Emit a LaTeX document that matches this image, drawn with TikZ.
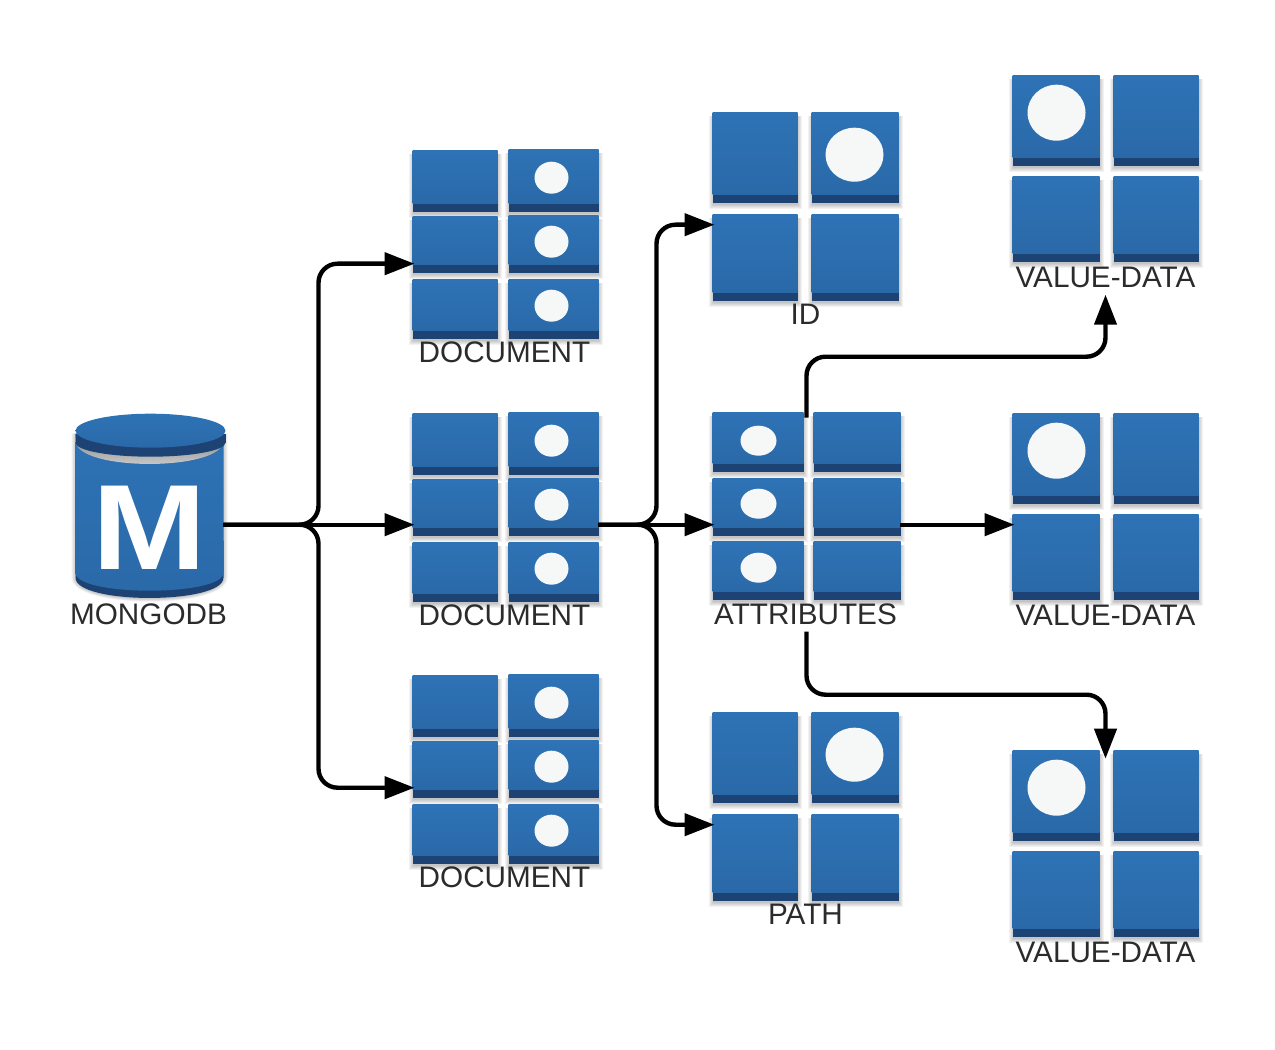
\documentclass[tikz,border=0pt]{standalone}
\usepackage{fontspec}
\setmainfont{Liberation Sans}
\usepackage{xcolor}
\usetikzlibrary{arrows.meta}

\definecolor{tiletop}{HTML}{2E73B6}
\definecolor{tilebottom}{HTML}{2A69A8}
\definecolor{tilebar}{HTML}{1C4373}
\definecolor{dotwhite}{HTML}{F6F7F7}
\definecolor{captiongray}{HTML}{2B2B2B}

\newcommand{\tile}[4]{
  \foreach \d in {1,...,5}
    \fill[softshade] ({#1-\d+1},{#2+3}) rectangle ({#3+\d-1},{#4+\d+1});
  \fill[tilebar] (#1,#2) rectangle (#3,#4);
  \shade[tileface] (#1,#2) rectangle (#3,#4-8);
}
\newcommand{\docgroup}[3]{
  \node[groupbox, minimum width=3.72cm, minimum height=4.2cm] (#1) at (505,#3) {};
  \begin{scope}[shift={(0,#2)}]
    \tile{412}{150}{497}{211}
    \tile{508}{149}{598}{211}
    \tile{412}{216}{497}{272}
    \tile{508}{215}{598}{272}
    \tile{412}{279}{497}{338}
    \tile{508}{279}{598}{338}
    \fill[dotfill] (551,177) ellipse [x radius=17, y radius=16];
    \fill[dotfill] (551,241) ellipse [x radius=17, y radius=16];
    \fill[dotfill] (551,305) ellipse [x radius=17, y radius=16];
    \node[caption] (#1label) at (504,352) {DOCUMENT};
  \end{scope}
}
\newcommand{\keygroup}[3]{
  \node[groupbox, minimum width=3.72cm, minimum height=3.6cm] (#1) at (805,224+#2) {};
  \begin{scope}[shift={(0,#2)}]
    \tile{712}{112}{797}{202}
    \tile{811}{112}{898}{202}
    \tile{712}{214}{797}{300}
    \tile{811}{214}{898}{300}
    \fill[dotfill] (854,154) ellipse [x radius=29, y radius=27];
    \node[caption] (#1label) at (805,314) {#3};
  \end{scope}
}
\newcommand{\valuegroup}[3]{
  \node[groupbox, minimum width=3.72cm, minimum height=4.44cm] (#1) at (1105,#3) {};
  \begin{scope}[shift={(0,#2)}]
    \tile{1012}{75}{1099}{165}
    \tile{1113}{75}{1198}{165}
    \tile{1012}{176}{1099}{261}
    \tile{1113}{176}{1198}{261}
    \fill[dotfill] (1056,112) ellipse [x radius=29, y radius=28];
    \node[caption] (#1label) at (1105,277) {VALUE-DATA};
  \end{scope}
}

\begin{document}
\begin{tikzpicture}[
    x=0.02cm, y=-0.02cm,
    softshade/.style={fill=black, opacity=0.05},
    tileface/.style={top color=tiletop, bottom color=tilebottom},
    tilebar/.style={fill=tilebar},
    dotfill/.style={fill=dotwhite},
    groupbox/.style={rectangle, inner sep=0pt, outer sep=0pt},
    caption/.style={inner sep=0pt, text=captiongray,
      font=\fontsize{16.9}{20}\selectfont},
    flow/.style={draw=black, line width=2.5pt, rounded corners=0.38cm,
      shorten >=-0.04cm, -{Triangle[length=0.6cm, width=0.44cm]}},
  ]

  \useasboundingbox (-0.5,-0.7) rectangle (1274.5,1049.3);

  % database
  \foreach \d in {1,...,5}
    \fill[softshade] ({76-\d},433) -- ({76-\d},577)
      .. controls ({76-\d},{604+\d}) and ({222+\d},{604+\d}) .. ({222+\d},577)
      -- ({222+\d},433) -- cycle;
  \fill[fill=tilebar] (75,540) -- (75,577)
    .. controls (75,604) and (223,604) .. (223,577) -- (223,540) -- cycle;
  \shade[tileface] (75,433) -- (75,572)
    .. controls (75,596) and (223,596) .. (223,572) -- (223,433) -- cycle;
  \shade[top color=black!50, bottom color=black!15] (75,433) -- (75,440)
    .. controls (75,471) and (223,471) .. (223,440) -- (223,433) -- cycle;
  \fill[fill=tilebar] (150,442) ellipse [x radius=75, y radius=14];
  \fill[fill=tilebar] (75,433) rectangle (225,442);
  \shade[tileface] (150,430) ellipse [x radius=75, y radius=17];
  \node[groupbox, minimum width=2.96cm, minimum height=2.4cm] (mongodb) at (149,524) {};
  \node[inner sep=0pt, text=white, font=\fontsize{69}{69}\selectfont\bfseries] (mletter) at (149,527) {\scalebox{1.13}[1]{M}};
  \node[caption] (mongodblabel) at (148,614) {MONGODB};

  % documents
  \docgroup{doc1}{0}{263}
  \docgroup{doc2}{263}{524}
  \docgroup{doc3}{525}{787}

  % attributes
  \node[groupbox, minimum width=3.76cm, minimum height=4.28cm] (attrs) at (806,524) {};
  \tile{712}{412}{803}{471}
  \tile{813}{412}{900}{471}
  \tile{712}{478}{803}{535}
  \tile{813}{478}{900}{535}
  \tile{712}{541}{803}{599}
  \tile{813}{541}{900}{599}
  \fill[dotfill] (758,440) ellipse [x radius=18, y radius=15];
  \fill[dotfill] (758,503) ellipse [x radius=18, y radius=15];
  \fill[dotfill] (758,567) ellipse [x radius=18, y radius=15];
  \node[caption] (attrslabel) at (805,614) {ATTRIBUTES};

  \keygroup{id}{0}{ID}
  \keygroup{path}{600}{PATH}

  \valuegroup{value1}{0}{185}
  \valuegroup{value2}{338}{524}
  \valuegroup{value3}{675}{867}

  % connectors
  \coordinate (forkdoc) at (318,524);
  \coordinate (forkattr) at (656,524);
  \coordinate (bendup) at (806,356);
  \coordinate (benddown) at (806,694);

  \draw[flow] (mongodb.east) -- (forkdoc) -- (forkdoc |- doc1.west) -- (doc1.west);
  \draw[flow] (mongodb.east) -- (doc2.west);
  \draw[flow] (mongodb.east) -- (forkdoc) -- (forkdoc |- doc3.west) -- (doc3.west);

  \draw[flow] (doc2.east) -- (forkattr) -- (forkattr |- id.west) -- (id.west);
  \draw[flow] (doc2.east) -- (attrs.west);
  \draw[flow] (doc2.east) -- (forkattr) -- (forkattr |- path.west) -- (path.west);

  \draw[flow] (attrs.north) -- (bendup) -- (bendup -| value1.south) -- (value1.south);
  \draw[flow] (attrs.east) -- (value2.west);
  \draw[flow] (attrs.south) -- (benddown) -- (benddown -| value3.north) -- (value3.north);

\end{tikzpicture}
\end{document}
